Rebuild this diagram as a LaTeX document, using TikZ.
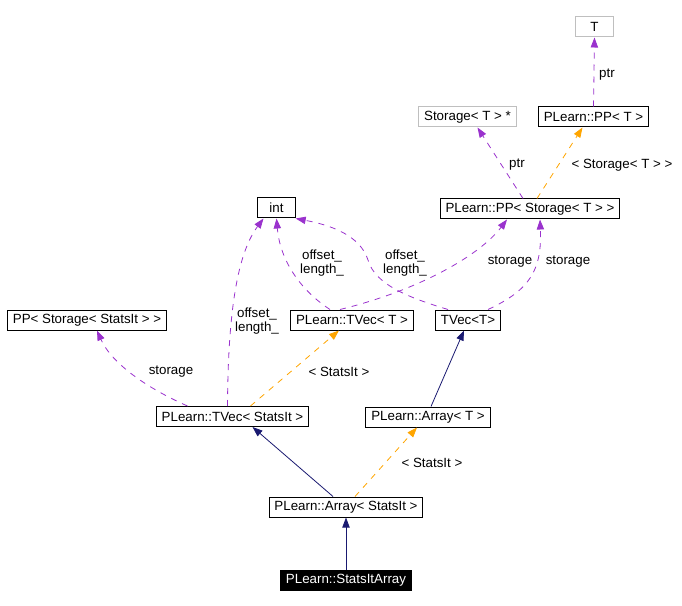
\documentclass[tikz,border=0pt]{standalone}
\usepackage{fontspec}
\setmainfont{Liberation Sans}
\usetikzlibrary{calc,arrows.meta}
\definecolor{EdgeNavy}{HTML}{191970}
\definecolor{EdgeOrange}{HTML}{FFA500}
\definecolor{EdgePurple}{HTML}{9A32CD}
\definecolor{BoxGray}{HTML}{BFBFBF}

\begin{document}
\begin{tikzpicture}[x=0.75pt, y=-0.75pt,
  clsbox/.style={draw=black, line width=0.75pt, fill=white, inner xsep=4pt, inner ysep=0pt,
    minimum height=15pt, minimum width=28pt, font=\fontsize{10}{11}\selectfont},
  extbox/.style={clsbox, draw=BoxGray},
  mainbox/.style={clsbox, fill=black, text=white},
  lbl/.style={font=\fontsize{10}{11}\selectfont, align=center, inner sep=0pt},
  inheritline/.style={EdgeNavy, line width=0.6pt, -{Triangle[length=7.5pt,width=5.5pt]}},
  usage/.style={EdgePurple, line width=0.6pt, dash pattern=on 4.5pt off 4.5pt, -{Triangle[length=7.5pt,width=5.5pt]}},
  templ/.style={EdgeOrange, line width=0.6pt, dash pattern=on 4.5pt off 4.5pt, -{Triangle[length=7.5pt,width=5.5pt]}}]
  \useasboundingbox (0,0) rectangle (682,606);

  % Classes
  \node[extbox] (tnode) at (594.5,27) {T};
  \node[clsbox] (ppt) at (593.5,117) {PLearn::PP< T >};
  \node[extbox] (st) at (467.5,117) {Storage< T > *};
  \node[clsbox] (ppst) at (530,209) {PLearn::PP< Storage< T > >};
  \node[clsbox] (int) at (276.5,208) {int};
  \node[clsbox] (pps) at (87,320) {PP< Storage< StatsIt > >};
  \node[clsbox] (tvt) at (352,320) {PLearn::TVec< T >};
  \node[clsbox] (tv) at (468,320) {TVec<T>};
  \node[clsbox] (tsi) at (232.5,416.5) {PLearn::TVec< StatsIt >};
  \node[clsbox] (at) at (428,417) {PLearn::Array< T >};
  \node[clsbox] (asi) at (346,507) {PLearn::Array< StatsIt >};
  \node[mainbox] (sia) at (346,580) {PLearn::StatsItArray};

  % Inheritance
  \draw[inheritline] (sia.north) -- (asi.south);
  \draw[inheritline] ($(asi.north)+(-13,0)$) -- ($(tsi.south)+(20,0)$);
  \draw[inheritline] ($(at.north)+(3,0)$) -- ($(tv.south)+(-4,0)$);

  % Template instances
  \draw[templ] ($(asi.north)+(9,0)$) -- ($(at.south)+(-11,0)$);
  \draw[templ] ($(tsi.north)+(18,0)$) -- ($(tvt.south)+(-13,0)$);
  \draw[templ] ($(ppst.north)+(7,0)$) -- ($(ppt.south)+(-11,0)$);

  % Members
  \draw[usage] (ppt.north) -- (tnode.south);
  \draw[usage] ($(ppst.north)+(-7,0)$) -- ($(st.south)+(10,0)$);
  \draw[usage] ($(tsi.north)+(-45,0)$) .. controls (140,385) and (110,360) .. ($(pps.south)+(10,0)$);
  \draw[usage] ($(tsi.north)+(-5,0)$) .. controls (228,300) and (240,250) .. ($(int.south)+(-13,0)$);
  \draw[usage] ($(tvt.north)+(-22,0)$) .. controls (300,290) and (280,260) .. (int.south);
  \draw[usage] ($(tvt.north)+(-12,0)$) .. controls (420,290) and (480,255) .. ($(ppst.south)+(-23,0)$);
  \draw[usage] ($(tv.north)+(-20,0)$) .. controls (410,298) and (375,285) .. (368,260)
    .. controls (360,235) and (330,225) .. (int.south east);
  \draw[usage] ($(tv.north)+(20,0)$) .. controls (530,290) and (542,270) .. ($(ppst.south)+(10,0)$);

  % Edge labels
  \node[lbl] (lptra) at (607,75) {ptr};
  \node[lbl] (lptrb) at (517,165) {ptr};
  \node[lbl] (lstt) at (622,165) {< Storage< T > >};
  \node[lbl] (loffa) at (257,321) {offset\_\\length\_};
  \node[lbl] (loffb) at (322,263) {offset\_\\length\_};
  \node[lbl] (loffc) at (405,263) {offset\_\\length\_};
  \node[lbl] (lstoa) at (171,372) {storage};
  \node[lbl] (lstob) at (510,262) {storage};
  \node[lbl] (lstoc) at (568,262) {storage};
  \node[lbl] (lsia) at (339,372) {< StatsIt >};
  \node[lbl] (lsib) at (432,463) {< StatsIt >};
\end{tikzpicture}
\end{document}
